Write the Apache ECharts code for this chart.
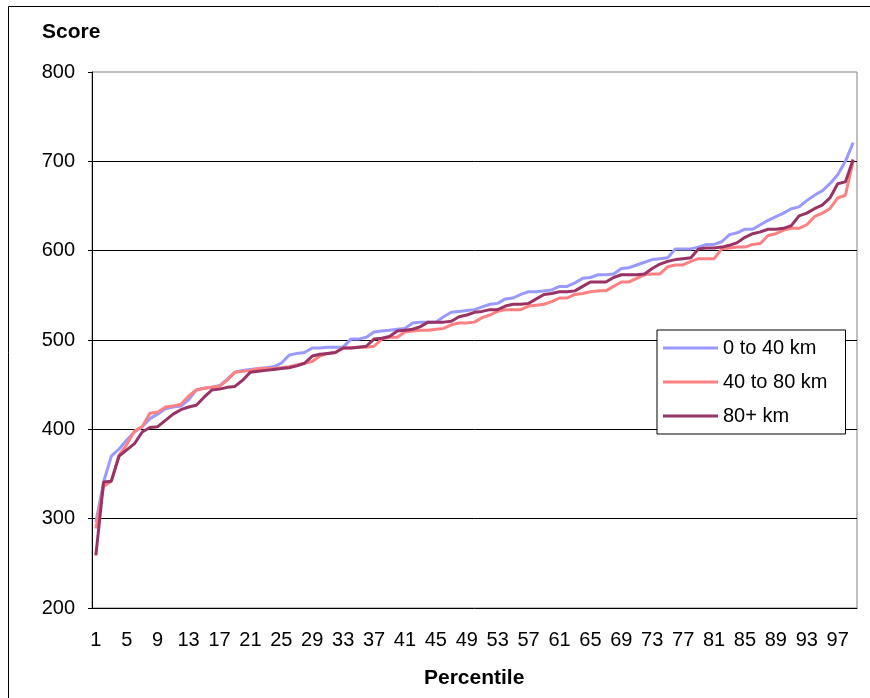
<!DOCTYPE html>
<html>
<head>
<meta charset="utf-8">
<script src="https://cdn.jsdelivr.net/npm/echarts@6/dist/echarts.min.js"></script>
<style>
  html, body { margin: 0; padding: 0; background: #fff; }
  #chart { width: 870px; height: 698px; }
</style>
</head>
<body>
<div id="chart"></div>
<script>
// percentiles 1..99
const percentiles = []
for (let p = 1; p <= 99; p++) percentiles.push(String(p))

const near = [ // 0 to 40 km
  296, 341, 370, 378, 388, 397, 403, 412, 417, 423,
  425, 426, 433, 444, 446, 447, 449, 456, 464, 466,
  467, 468, 469, 470, 474, 483, 485, 486, 491, 491,
  492, 492, 492, 501, 501, 503, 509, 510, 511, 512,
  513, 519, 520, 520, 520, 526, 531, 532, 533, 534,
  537, 540, 541, 546, 547, 551, 554, 554, 555, 556,
  560, 560, 564, 569, 570, 573, 573, 574, 580, 581,
  584, 587, 590, 591, 592, 602, 602, 602, 604, 607,
  607, 610, 618, 620, 624, 624, 629, 634, 638, 642,
  647, 649, 656, 662, 667, 675, 685, 700, 721
]
const mid = [ // 40 to 80 km
  289, 336, 342, 371, 383, 398, 403, 418, 419, 425,
  426, 428, 437, 444, 446, 447, 448, 455, 464, 465,
  466, 468, 468, 468, 469, 470, 472, 474, 476, 482,
  485, 486, 491, 491, 492, 492, 493, 501, 503, 503,
  509, 510, 511, 511, 512, 513, 517, 519, 519, 520,
  525, 528, 532, 534, 534, 534, 538, 539, 540, 543,
  547, 547, 551, 552, 554, 555, 555, 560, 565, 565,
  569, 573, 574, 574, 582, 584, 584, 588, 591, 591,
  591, 602, 603, 604, 604, 607, 608, 617, 619, 623,
  625, 625, 629, 638, 642, 647, 659, 662, 700
]
const far = [ // 80+ km
  259, 341, 342, 370, 377, 384, 397, 402, 403, 410,
  417, 422, 425, 427, 436, 444, 445, 447, 448, 455,
  464, 465, 466, 467, 468, 469, 471, 474, 482, 484,
  485, 486, 491, 491, 492, 493, 501, 502, 504, 510,
  511, 512, 515, 520, 520, 520, 521, 526, 528, 531,
  532, 534, 534, 538, 540, 540, 541, 546, 551, 552,
  554, 554, 555, 560, 565, 565, 565, 570, 573, 573,
  573, 574, 580, 585, 588, 590, 591, 592, 602, 603,
  603, 604, 606, 609, 615, 619, 621, 624, 624, 625,
  628, 639, 642, 647, 651, 659, 675, 677, 702
]

const font = 'Arial, "Liberation Sans", sans-serif'

function lineSeries(name, data, color) {
  return {
    name: name,
    type: 'line',
    data: data,
    symbol: 'none',
    lineStyle: { width: 3, color: color },
    itemStyle: { color: color },
    animation: false
  }
}

const chart = echarts.init(document.getElementById('chart'))
chart.setOption({
  backgroundColor: '#fff',
  animation: false,
  grid: {
    left: 92,
    right: 13,
    top: 72,
    bottom: 90,
    show: true,
    borderColor: '#808080',
    borderWidth: 1
  },
  legend: {
    orient: 'vertical',
    left: 657,
    top: 330,
    icon: 'rect',
    itemWidth: 55,
    itemHeight: 3,
    itemGap: 14,
    padding: [8, 18, 8, 6],
    borderColor: '#000',
    borderWidth: 1,
    backgroundColor: '#fff',
    textStyle: { fontFamily: font, fontSize: 20, color: '#000' },
    data: ['0 to 40 km', '40 to 80 km', '80+ km']
  },
  xAxis: {
    type: 'category',
    data: percentiles,
    boundaryGap: true,
    axisLine: { lineStyle: { color: '#000', width: 1 } },
    axisTick: { inside: true, length: 5, interval: 0, lineStyle: { color: '#000' } },
    axisLabel: { interval: 3, margin: 22, fontFamily: font, fontSize: 20, color: '#000' },
    splitLine: { show: false }
  },
  yAxis: {
    type: 'value',
    min: 200,
    max: 800,
    interval: 100,
    axisLine: { show: true, lineStyle: { color: '#000', width: 1 } },
    axisTick: { show: true, length: 4, lineStyle: { color: '#000' } },
    axisLabel: { margin: 17, fontFamily: font, fontSize: 20, color: '#000' },
    splitLine: { show: true, showMinLine: false, showMaxLine: false, lineStyle: { color: '#000', width: 1 } }
  },
  graphic: [
    {
      type: 'rect',
      shape: { x: 8.5, y: 6.5, width: 880, height: 720 },
      style: { fill: null, stroke: '#000', lineWidth: 1 },
      silent: true
    },
    {
      type: 'text',
      left: 42,
      top: 22,
      style: { text: 'Score', font: 'bold 21px ' + font, fill: '#000' }
    },
    {
      type: 'text',
      left: 424,
      top: 668,
      style: { text: 'Percentile', font: 'bold 21px ' + font, fill: '#000' }
    }
  ],
  series: [
    lineSeries('0 to 40 km', near, '#9999FF'),
    lineSeries('40 to 80 km', mid, '#FF8080'),
    lineSeries('80+ km', far, '#993366')
  ]
})
</script>
</body>
</html>
